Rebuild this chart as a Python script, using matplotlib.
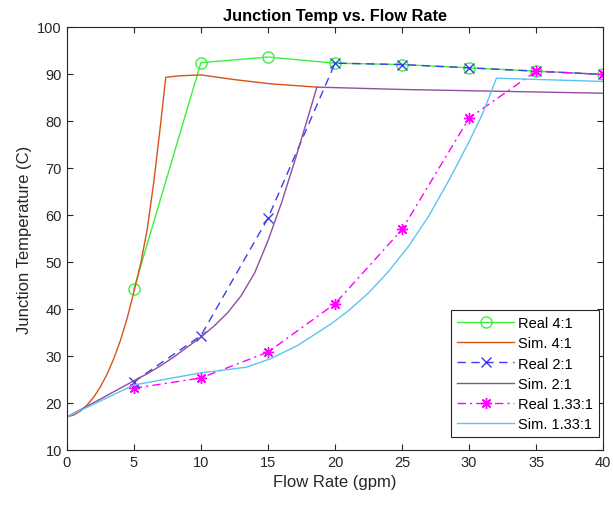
import matplotlib
matplotlib.use("Agg")
import matplotlib.pyplot as plt

plt.rcParams['font.family'] = ['Liberation Sans', 'DejaVu Sans']

# Measured data
real_x = [5, 10, 15, 20, 25, 30, 35, 40]
real_4_1 = [44.2, 92.4, 93.6, 92.3, 92.0, 91.3, 90.6, 89.9]
real_2_1 = [24.5, 34.3, 59.3, 92.3, 92.0, 91.3, 90.6, 89.9]
real_133_1 = [23.1, 25.3, 30.8, 41.1, 56.9, 80.6, 90.6, 89.9]

sim_4_1_x = [0, 0.5, 1, 1.5, 2, 2.5, 3, 3.5, 4, 4.5, 5, 5.5, 6, 6.5, 7, 7.38, 8.4, 10, 12.5, 15.2, 18.65]
sim_4_1_y = [17, 17.4, 18.2, 19.5, 21.2, 23.4, 26.1, 29.4, 33.3, 38.0, 43.6, 49.5, 57.0, 67.3, 79.5, 89.3, 89.6, 89.8, 88.8, 87.9, 87.2]

sim_2_1_x = [0, 2.5, 5, 6, 7, 8, 9, 10, 11, 12, 13, 14, 15, 16, 17, 17.9, 18.65, 25, 40]
sim_2_1_y = [17, 20.8, 24.7, 26.2, 27.9, 29.8, 31.9, 34.0, 36.4, 39.2, 42.8, 47.6, 54.5, 62.5, 71.5, 80.0, 87.2, 86.7, 85.9]

sim_133_1_x = [0, 2.5, 5, 7.5, 10, 11.5, 13.4, 15.2, 17.2, 19.7, 21, 22.5, 24, 25.5, 27, 28.5, 30, 31, 32.04, 40]
sim_133_1_y = [17, 20.4, 23.8, 25.1, 26.4, 26.9, 27.6, 29.4, 32.2, 36.8, 39.6, 43.4, 48.0, 53.4, 59.8, 67.4, 75.6, 81.5, 89.1, 88.4]

fig = plt.figure(figsize=(6.13, 5.06), dpi=100)
ax = fig.add_axes([0.109, 0.109, 0.875, 0.8357])

lw = 1.0
ax.plot(real_x, real_4_1, color='#3cf03c', lw=lw, marker='o', markersize=8,
        markerfacecolor='none', markeredgewidth=1.0, label='Real 4:1')
ax.plot(sim_4_1_x, sim_4_1_y, color='#D95319', lw=lw, label='Sim. 4:1')
ax.plot(real_x, real_2_1, color='#3c3cf0', lw=lw, ls=(0, (6, 4)), marker='x', markersize=7,
        markeredgewidth=1.0, label='Real 2:1')
ax.plot(sim_2_1_x, sim_2_1_y, color='#8E4F9E', lw=lw, label='Sim. 2:1')
ax.plot(real_x, real_133_1, color='#ff00ff', lw=lw, ls=(0, (6, 3, 1.5, 3)), marker=(8, 2, 0),
        markersize=8, markeredgewidth=1.0, label='Real 1.33:1')
ax.plot(sim_133_1_x, sim_133_1_y, color='#5DC4EE', lw=lw, label='Sim. 1.33:1')

ax.set_xlim(0, 40)
ax.set_ylim(10, 100)
ax.set_xticks(range(0, 41, 5))
ax.set_yticks(range(10, 101, 10))
ax.tick_params(direction='in', top=True, right=True, labelsize=10.5, colors='#262626', length=4)
for s in ax.spines.values():
    s.set_color('#262626')
    s.set_linewidth(0.8)

ax.set_title('Junction Temp vs. Flow Rate', fontsize=11.8, fontweight='bold', pad=5)
ax.set_xlabel('Flow Rate (gpm)', fontsize=12, color='#262626')
ax.set_ylabel('Junction Temperature (C)', fontsize=12, color='#262626')

leg = ax.legend(loc='lower right', bbox_to_anchor=(0.9925, 0.031), fontsize=10.5,
                handlelength=3.9, handletextpad=0.3, fancybox=False,
                framealpha=1, edgecolor='#262626', borderaxespad=0, labelspacing=0.42,
                borderpad=0.4)
leg.get_frame().set_linewidth(0.8)

fig.savefig('out.png', dpi=100)
